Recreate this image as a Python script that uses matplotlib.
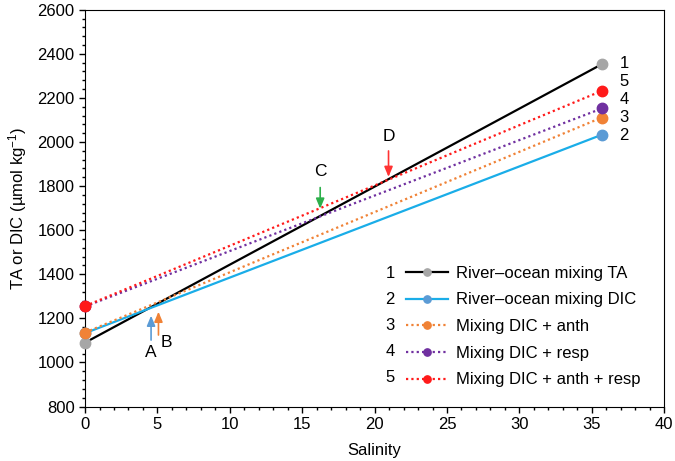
import matplotlib
matplotlib.use('Agg')
import matplotlib.pyplot as plt
from matplotlib.ticker import MultipleLocator

plt.rcParams['font.family'] = ['Liberation Sans', 'DejaVu Sans']
plt.rcParams['mathtext.default'] = 'regular'

# end members (salinity 0 and ocean salinity)
sal = [0, 35.7]
ta = [1090, 2353]
dic = [1133, 2033]
dic_anth = [1136, 2111]
dic_resp = [1254, 2152]
dic_anth_resp = [1256, 2232]

names = ['River\u2013ocean mixing TA', 'River\u2013ocean mixing DIC', 'Mixing DIC + anth',
         'Mixing DIC + resp', 'Mixing DIC + anth + resp']
nums = ['1', '2', '3', '4', '5']
series = [ta, dic, dic_anth, dic_resp, dic_anth_resp]
line_cols = ['black', '#1AADE8', '#F08236', '#7030A0', '#FF1A1A']
mark_cols = ['#A6A6A6', '#5B9BD5', '#F08236', '#7030A0', '#FF1A1A']
styles = ['-', '-', (0, (1, 1.4)), (0, (1, 1.4)), (0, (1, 1.4))]

# labels next to the ocean end members (spread out so they don't collide)
end_lab_y = [2355, 2028, 2109, 2192, 2275]

# arrows: label, x, tail y, tip y, label position, colour
arr_lab = ['A', 'B', 'C', 'D']
arr_x = [4.56, 5.07, 16.24, 20.96]
arr_tail = [1089, 1112, 1806, 1972]
arr_tip = [1225, 1243, 1685, 1829]
arr_tx = [4.56, 5.65, 16.24, 20.96]
arr_ty = [1045, 1089, 1866, 2025]
arr_col = ['#5B9BD5', '#F08236', '#2DB04B', '#FF3333']

fig = plt.figure(figsize=(6.75, 4.61), dpi=100)
ax = fig.add_axes([0.126, 0.118, 0.858, 0.861])

handles = []
for s, c, mc, ls, nm in zip(series, line_cols, mark_cols, styles, names):
    h, = ax.plot(sal, s, color=c, ls=ls, lw=1.6, marker='o', ms=7.5,
                 mfc=mc, mec=mc, clip_on=False, zorder=3, label=nm)
    handles.append(h)

for n, y in zip(nums, end_lab_y):
    ax.text(36.9, y, n, fontsize=12, va='center', ha='left')

for lab, x, t0, t1, tx, ty, c in zip(arr_lab, arr_x, arr_tail, arr_tip, arr_tx, arr_ty, arr_col):
    ax.annotate('', xy=(x, t1), xytext=(x, t0),
                arrowprops=dict(arrowstyle='-|>,head_length=0.6,head_width=0.25', color=c, lw=1.2))
    ax.text(tx, ty, lab, fontsize=12.5, ha='center', va='center')

leg = ax.legend(handles=handles, loc='upper left', bbox_to_anchor=(0.555, 0.355),
                frameon=False, fontsize=12, handlelength=2.5, handletextpad=0.5,
                labelspacing=0.70, markerscale=0.7, borderpad=0, borderaxespad=0)
for i, n in enumerate(nums):
    ax.text(0.527, 0.336 - i * 0.0655, n, transform=ax.transAxes, fontsize=12,
            ha='center', va='center')

ax.set_xlim(0, 40)
ax.set_ylim(800, 2600)
ax.xaxis.set_major_locator(MultipleLocator(5))
ax.xaxis.set_minor_locator(MultipleLocator(1))
ax.yaxis.set_major_locator(MultipleLocator(200))
ax.yaxis.set_minor_locator(MultipleLocator(40))
ax.tick_params(which='both', direction='out', top=False, right=False, labelsize=12, width=1)
ax.tick_params(which='major', length=4)
ax.tick_params(which='minor', length=2.5)
ax.set_xlabel('Salinity', fontsize=12, labelpad=8)
ax.set_ylabel('TA or DIC (\u00b5mol kg$^{-1}$)', fontsize=12, labelpad=6)

fig.savefig('out.png', dpi=100)
